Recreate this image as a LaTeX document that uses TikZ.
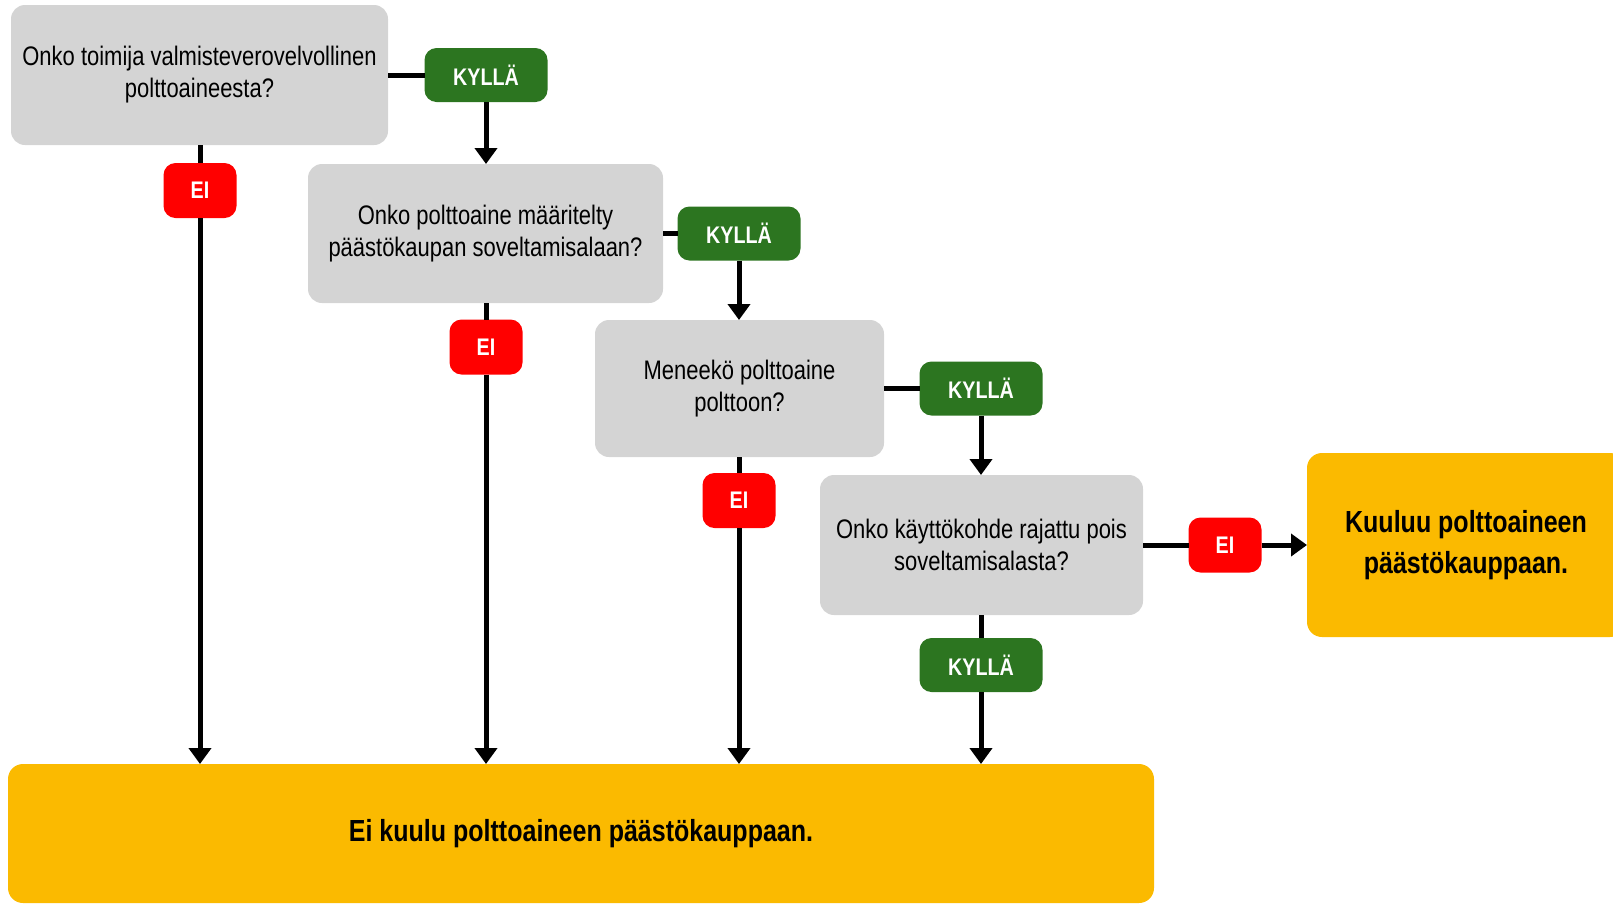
\documentclass[tikz,border=0pt]{standalone}
\usepackage{fontspec}
\setmainfont[FakeStretch=0.82]{Liberation Sans}
\usetikzlibrary{arrows.meta}
\definecolor{qgray}{HTML}{D4D4D4}
\definecolor{ygreen}{HTML}{2C7520}
\definecolor{nred}{HTML}{FF0000}
\definecolor{amber}{HTML}{FBBA00}
\tikzset{
  qbox/.style={fill=qgray, rounded corners=14pt, outer sep=0pt, inner sep=0pt, align=center,
    font=\fontsize{26.8}{32}\selectfont, text=black},
  badge/.style={rounded corners=12pt, outer sep=0pt, inner sep=0pt, text=white,
    font=\fontsize{24}{26}\selectfont\bfseries},
  yes/.style={badge, fill=ygreen, minimum width=123pt, minimum height=54pt},
  no/.style={badge, fill=nred, minimum width=73pt, minimum height=55pt},
  result/.style={fill=amber, rounded corners=15pt, outer sep=0pt, inner sep=0pt, align=center,
    font=\fontsize{30.5}{41}\selectfont\bfseries, text=black},
  link/.style={line width=5pt},
  arr/.style={line width=5pt, -{Triangle[length=16pt,width=22pt]}}
}
\begin{document}
\begin{tikzpicture}[x=1pt,y=-1pt]
\useasboundingbox (0,0) rectangle (1613,903);
% questions
\node[qbox, minimum width=377pt, minimum height=140pt] (q1) at (199.5,75)
  {Onko toimija valmisteverovelvollinen\\polttoaineesta?};
\node[qbox, minimum width=355pt, minimum height=139pt] (q2) at (485.5,233.5)
  {Onko polttoaine määritelty\\päästökaupan soveltamisalaan?};
\node[qbox, minimum width=289pt, minimum height=137pt] (q3) at (739.5,388.5)
  {Meneekö polttoaine\\polttoon?};
\node[qbox, minimum width=323pt, minimum height=140pt] (q4) at (981.5,545)
  {Onko käyttökohde rajattu pois\\soveltamisalasta?};
% results
\node[result, minimum width=1146pt, minimum height=139pt] (rb) at (581,833.5)
  {Ei kuulu polttoaineen päästökauppaan.};
\node[result, minimum width=318pt, minimum height=184pt] (rr) at (1466,545)
  {Kuuluu polttoaineen\\päästökauppaan.};
% badges
\node[yes] (k1) at (486,75) {KYLLÄ};
\node[yes] (k2) at (739,233.5) {KYLLÄ};
\node[yes] (k3) at (981,388.5) {KYLLÄ};
\node[yes] (k4) at (981,665) {KYLLÄ};
\node[no] (e1) at (200,190.5) {EI};
\node[no] (e2) at (486,347) {EI};
\node[no] (e3) at (739,500.5) {EI};
\node[no] (e4) at (1225,545) {EI};
% connectors
\draw[link] (q1.east) -- (k1.west);
\draw[arr] (k1.south) -- (q2.north -| k1.south);
\draw[link] (q2.east) -- (k2.west);
\draw[arr] (k2.south) -- (q3.north -| k2.south);
\draw[link] (q3.east) -- (k3.west);
\draw[arr] (k3.south) -- (q4.north -| k3.south);
\draw[link] (q4.east) -- (e4.west);
\draw[arr] (e4.east) -- (rr.west);
\draw[link] (q1.south -| e1.north) -- (e1.north);
\draw[arr] (e1.south) -- (rb.north -| e1.south);
\draw[link] (q2.south -| e2.north) -- (e2.north);
\draw[arr] (e2.south) -- (rb.north -| e2.south);
\draw[link] (q3.south -| e3.north) -- (e3.north);
\draw[arr] (e3.south) -- (rb.north -| e3.south);
\draw[link] (q4.south -| k4.north) -- (k4.north);
\draw[arr] (k4.south) -- (rb.north -| k4.south);
\end{tikzpicture}
\end{document}
